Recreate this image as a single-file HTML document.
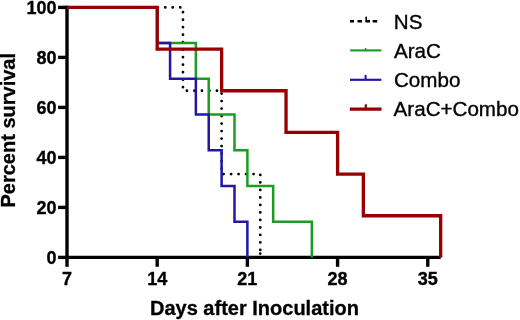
<!DOCTYPE html>
<html><head><meta charset="utf-8"><title>Survival</title>
<style>
html,body{margin:0;padding:0;background:#fff;}
body{width:520px;height:320px;overflow:hidden;}
svg{display:block;font-family:"Liberation Sans",Arial,sans-serif;}
.b{font-weight:bold;font-size:18px;fill:#000;stroke:#000;stroke-width:0.35px;}
.t{font-weight:bold;font-size:20px;fill:#000;stroke:#000;stroke-width:0.3px;}
.l{font-size:20.6px;fill:#000;stroke:#000;stroke-width:0.35px;}
</style></head><body>
<svg width="520" height="320" viewBox="0 0 520 320">
<defs><filter id="soft" x="0" y="0" width="520" height="320" filterUnits="userSpaceOnUse"><feGaussianBlur stdDeviation="0.4"/></filter></defs>
<rect width="520" height="320" fill="#fff"/>
<g filter="url(#soft)">
<g stroke="#000" stroke-width="3.4" fill="none">
<line x1="67" x2="67" y1="5.7" y2="259.1"/>
<line x1="65.5" x2="440.67" y1="257.4" y2="257.4"/>
<line x1="58.1" x2="67" y1="257.4" y2="257.4"/><line x1="58.1" x2="67" y1="207.4" y2="207.4"/><line x1="58.1" x2="67" y1="157.4" y2="157.4"/><line x1="58.1" x2="67" y1="107.4" y2="107.4"/><line x1="58.1" x2="67" y1="57.4" y2="57.4"/><line x1="58.1" x2="67" y1="7.4" y2="7.4"/>
<line x1="67.0" x2="67.0" y1="257.4" y2="266.8"/><line x1="157.19" x2="157.19" y1="257.4" y2="266.8"/><line x1="247.39" x2="247.39" y1="257.4" y2="266.8"/><line x1="337.58" x2="337.58" y1="257.4" y2="266.8"/><line x1="427.78" x2="427.78" y1="257.4" y2="266.8"/>
</g>
<g fill="none" stroke-linejoin="miter">
<path d="M67.0 7.4 H182.97 V90.73 H221.62 V174.07 H260.27 V257.4" stroke="#000" stroke-width="2.8" stroke-linecap="round" stroke-dasharray="0 7.5" stroke-dashoffset="-0.75"/>
<circle cx="260.27" cy="253.6" r="1.3" fill="#000" stroke="none"/>
<path d="M67.0 7.4 H157.19 V43.12 H195.85 V78.83 H208.73 V114.54 H234.5 V150.26 H247.39 V185.97 H273.16 V221.69 H311.81 V257.4" stroke="#1c9c20" stroke-width="2.5"/>
<path d="M67.0 7.4 H157.19 V43.12 H170.08 V78.83 H195.85 V114.54 H208.73 V150.26 H221.62 V185.97 H234.5 V221.69 H247.39 V257.4" stroke="#2219a6" stroke-width="2.5"/>
<path d="M67.0 7.4 H157.19 V49.07 H221.62 V90.73 H286.04 V132.4 H337.58 V174.07 H363.36 V215.73 H440.67 V257.4" stroke="#960505" stroke-width="3.3"/>
</g>
<g class="b"><text x="56.5" y="263.9" text-anchor="end">0</text><text x="56.5" y="213.9" text-anchor="end">20</text><text x="56.5" y="163.9" text-anchor="end">40</text><text x="56.5" y="113.9" text-anchor="end">60</text><text x="56.5" y="63.9" text-anchor="end">80</text><text x="56.5" y="13.9" text-anchor="end">100</text><text x="67.0" y="285" text-anchor="middle">7</text><text x="157.19" y="285" text-anchor="middle">14</text><text x="247.39" y="285" text-anchor="middle">21</text><text x="337.58" y="285" text-anchor="middle">28</text><text x="427.78" y="285" text-anchor="middle">35</text></g>
<text class="t" x="150" y="314.7">Days after Inoculation</text>
<text class="t" transform="translate(14.5 207.5) rotate(-90)">Percent survival</text>
<g fill="none">
<path d="M350 21.3H354M357.5 21.3H362M365.5 21.3H370M372.7 21.3H377.2" stroke="#000" stroke-width="2.5"/>
<path d="M366.2 21.3V17.2" stroke="#000" stroke-width="1.6" stroke-linecap="round"/>
<path d="M350.2 50.4H381.3" stroke="#1a9a1e" stroke-width="2.1"/><path d="M365.6 50.4V48" stroke="#1a9a1e" stroke-width="1.6"/>
<path d="M350 79.8H381.3" stroke="#2219a6" stroke-width="2.2"/><path d="M365.6 79.8V74.9" stroke="#2219a6" stroke-width="2"/>
<path d="M349.8 109.05H381.5" stroke="#960505" stroke-width="3.2"/><path d="M365.8 109V104.3" stroke="#960505" stroke-width="2.2"/>
</g>
<g class="l">
<text x="393.8" y="28.5">NS</text>
<text x="394" y="57.8">AraC</text>
<text x="394" y="87.1">Combo</text>
<text x="393.6" y="116.1">AraC+Combo</text>
</g>
</g>
</svg>
</body></html>
